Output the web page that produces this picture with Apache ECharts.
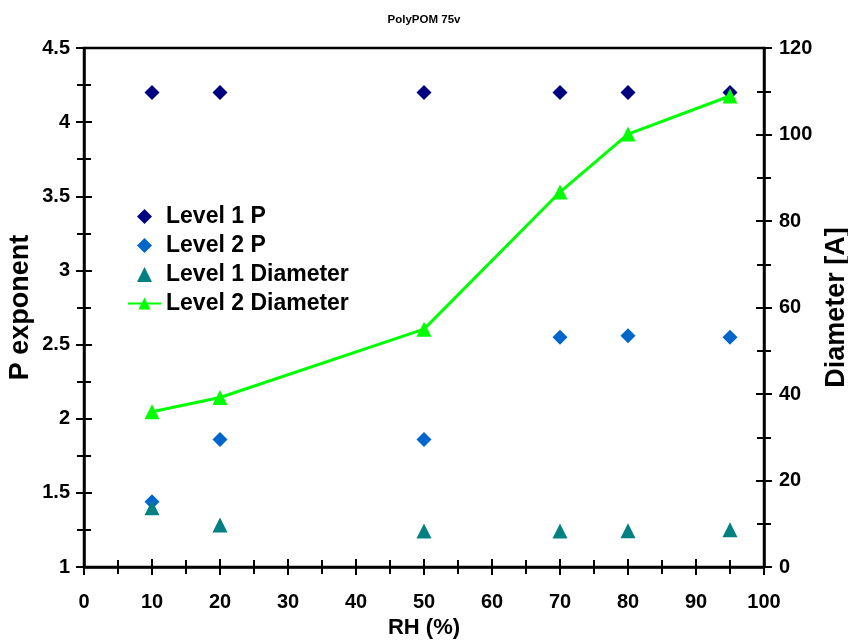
<!DOCTYPE html>
<html>
<head>
<meta charset="utf-8">
<script src="https://cdn.jsdelivr.net/npm/echarts@6/dist/echarts.min.js"></script>
<style>
  html, body { margin: 0; padding: 0; background: #fff; overflow: hidden; }
  #chart { width: 848px; height: 640px; }
</style>
</head>
<body>
<div id="chart"></div>
<script>
// Relative humidity (%) at which each sample was measured
const rh = [10, 20, 50, 70, 80, 95];
// Power-law exponents per structural level
const level1P = [4.2, 4.2, 4.2, 4.2, 4.2, 4.2];
const level2P = [1.44, 1.86, 1.86, 2.55, 2.56, 2.55];
// Characteristic diameters per level, in Angstrom
const level1Diameter = [13.7, 9.7, 8.3, 8.3, 8.4, 8.6];
const level2Diameter = [35.9, 39.2, 55.0, 86.7, 100.1, 108.9];

const pairs = (ys) => rh.map((x, i) => [x, ys[i]]);

const FONT = '"Liberation Sans", Arial, sans-serif';
const labelStyle = { fontFamily: FONT, fontWeight: 'bold', fontSize: 20, color: '#000' };
const axisLine = { show: true, lineStyle: { color: '#000', width: 2.5 } };

// Plot box size in px (848 - 2*84 wide, 640 - 48 - 73 high)
const PLOT_W = 680, PLOT_H = 519;
const TICK = 8, MINOR = 7;

// Outer half of each tick comes from the axis ticks; the inner half is a
// short dash of the split line, starting at the axis side of the plot box.
function crossTicks(dashMajor, dashMinor) {
  return {
    axisTick: { show: true, inside: false, length: TICK, lineStyle: { color: '#000', width: 2 } },
    minorTick: { show: true, splitNumber: 2, length: MINOR, lineStyle: { color: '#000', width: 2 } },
    splitLine: { show: true, lineStyle: { color: '#000', width: 2, type: dashMajor } },
    minorSplitLine: { show: true, lineStyle: { color: '#000', width: 2, type: dashMinor } }
  };
}
const atStart = (len) => [len, 4000];
const atEnd = (len, span) => [0, span - len, len, 4000];

const legendText = { fontFamily: FONT, fontWeight: 'bold', fontSize: 23, color: '#000' };
const DIAMOND = 'path://M0,-1L1,0L0,1L-1,0Z';
const TRIANGLE = 'path://M0,-1L1,1L-1,1Z';

const option = {
  animation: false,
  backgroundColor: '#fff',
  title: {
    text: 'PolyPOM 75v',
    left: 'center',
    top: 9,
    textStyle: { fontFamily: FONT, fontWeight: 'bold', fontSize: 11.5, color: '#000' }
  },
  grid: {
    left: 84, right: 84, top: 48, bottom: 73,
    outerBoundsMode: 'none',
    containLabel: false,
    show: true, borderColor: '#000', borderWidth: 2.5
  },
  legend: {
    orient: 'vertical',
    left: 122,
    top: 200,
    itemWidth: 33,
    itemHeight: 15,
    itemGap: 6,
    textStyle: legendText,
    data: [
      { name: 'Level 1 P', icon: DIAMOND },
      { name: 'Level 2 P', icon: DIAMOND },
      { name: 'Level 1 Diameter', icon: TRIANGLE },
      { name: 'Level 2 Diameter' }
    ]
  },
  xAxis: Object.assign(
    { type: 'value', min: 0, max: 100, interval: 10, position: 'bottom' },
    crossTicks(atEnd(TICK, PLOT_H), atEnd(MINOR, PLOT_H)),
    {
      name: 'RH (%)',
      nameLocation: 'middle',
      nameGap: 48,
      nameTextStyle: Object.assign({}, labelStyle, { fontSize: 22 }),
      axisLine: axisLine,
      axisLabel: Object.assign({}, labelStyle, { margin: 25 })
    }
  ),
  yAxis: [
    Object.assign(
      { type: 'value', min: 1, max: 4.5, interval: 0.5, position: 'left' },
      crossTicks(atStart(TICK), atStart(MINOR)),
      {
        name: 'P exponent',
        nameLocation: 'middle',
        nameGap: 50,
        nameMoveOverlap: false,
        nameTextStyle: Object.assign({}, labelStyle, { fontSize: 27 }),
        axisLine: axisLine,
        axisLabel: Object.assign({}, labelStyle, { margin: 14 })
      }
    ),
    Object.assign(
      { type: 'value', min: 0, max: 120, interval: 20, position: 'right' },
      crossTicks(atEnd(TICK, PLOT_W), atEnd(MINOR, PLOT_W)),
      {
        name: 'Diameter [A]',
        nameLocation: 'middle',
        nameGap: 58,
        nameRotate: 90,
        nameTextStyle: Object.assign({}, labelStyle, { fontSize: 27 }),
        axisLine: axisLine,
        axisLabel: Object.assign({}, labelStyle, { margin: 15 })
      }
    )
  ],
  series: [
    {
      name: 'Level 1 P',
      type: 'scatter',
      xAxisIndex: 0, yAxisIndex: 0,
      symbol: 'diamond',
      symbolSize: 15,
      itemStyle: { color: '#000080', opacity: 1 },
      data: pairs(level1P)
    },
    {
      name: 'Level 2 P',
      type: 'scatter',
      xAxisIndex: 0, yAxisIndex: 0,
      symbol: 'diamond',
      symbolSize: 15,
      itemStyle: { color: '#0066CC', opacity: 1 },
      data: pairs(level2P)
    },
    {
      name: 'Level 1 Diameter',
      type: 'scatter',
      xAxisIndex: 0, yAxisIndex: 1,
      symbol: 'triangle',
      symbolSize: 15,
      itemStyle: { color: '#008080', opacity: 1 },
      data: pairs(level1Diameter)
    },
    {
      name: 'Level 2 Diameter',
      type: 'line',
      xAxisIndex: 0, yAxisIndex: 1,
      symbol: 'triangle',
      symbolSize: 15,
      showAllSymbol: true,
      lineStyle: { color: '#00FF00', width: 3 },
      itemStyle: { color: '#00FF00', borderWidth: 0 },
      data: pairs(level2Diameter)
    }
  ]
};

const chart = echarts.init(document.getElementById('chart'), null, { renderer: 'canvas' });
chart.setOption(option);
</script>
</body>
</html>
